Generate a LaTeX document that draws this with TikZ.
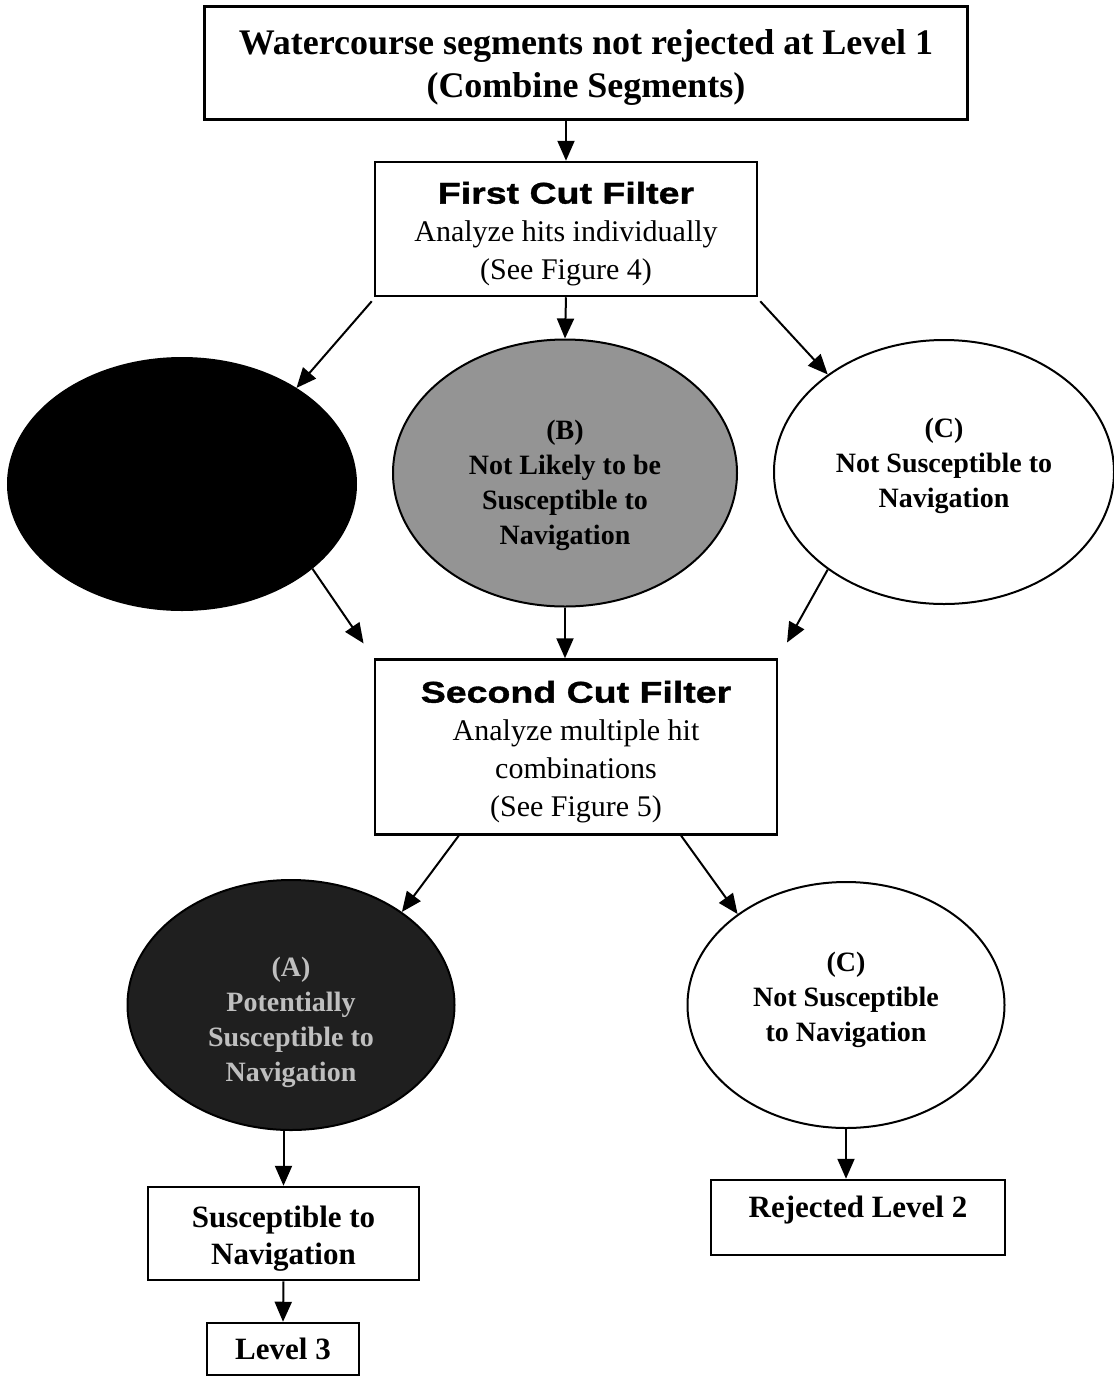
\documentclass[tikz,border=0pt]{standalone}
\usepackage{fontspec}
\setmainfont{Liberation Serif}
\newfontfamily\blk{Liberation Sans}[FakeStretch=1.25,FakeBold=1.2]
\usetikzlibrary{shapes.geometric,arrows.meta,calc}
\tikzset{
  box/.style={draw,line width=2.5pt,rectangle,inner sep=0pt,align=center,fill=white},
  oval/.style={draw,line width=2pt,ellipse,inner sep=0pt,align=center},
  arr/.style={line width=2pt,-{Triangle[length=20pt,width=17pt]}},
  etxt/.style={font=\bfseries\fontsize{28}{35}\selectfont,align=center},
  btxt/.style={font=\bfseries\fontsize{31}{37}\selectfont,align=center},
  rtxt/.style={font=\fontsize{30}{38}\selectfont,align=center}
}
\begin{document}
\begin{tikzpicture}[x=1pt,y=-1pt]
\useasboundingbox (0,0) rectangle (1114,1377);
% boxes
\node[box,minimum width=763pt,minimum height=113pt,
  label={[font=\bfseries\fontsize{36}{43}\selectfont,align=center,yshift=-4pt]center:Watercourse segments not rejected at Level 1\\(Combine Segments)}] (top) at (586,63) {};
\node[box,minimum width=382pt,minimum height=134pt,
  label={[rtxt,yshift=-5pt]center:{\blk\bfseries First Cut Filter}\\Analyze hits individually\\(See Figure 4)}] (fc) at (566,229) {};
% ellipses row 1
\node[oval,fill=black,minimum width=348pt,minimum height=252pt] (A) at (182,484) {};
\node[oval,fill=black!42,minimum width=344pt,minimum height=267pt,
  label={[etxt,yshift=-12pt]center:(B)\\Not Likely to be\\Susceptible to\\Navigation}] (B) at (565,473) {};
\node[oval,fill=white,minimum width=340pt,minimum height=264pt,
  label={[etxt,yshift=6pt]center:(C)\\Not Susceptible to\\Navigation}] (C) at (944,472) {};
% second cut
\node[box,minimum width=402pt,minimum height=175pt,
  label={[rtxt,yshift=-5pt]center:{\blk\bfseries Second Cut Filter}\\Analyze multiple hit\\combinations\\(See Figure 5)}] (sc) at (576,747) {};
% ellipses row 2
\node[oval,fill=black!88,minimum width=327pt,minimum height=250pt,
  label={[etxt,text=black!25,yshift=-17pt]center:(A)\\Potentially\\Susceptible to\\Navigation}] (A2) at (291,1005) {};
\node[oval,fill=white,minimum width=317pt,minimum height=246pt,
  label={[etxt,yshift=5pt]center:(C)\\Not Susceptible\\to Navigation}] (C2) at (846,1005) {};
% bottom boxes
\node[box,minimum width=271pt,minimum height=93pt,
  label={[btxt,yshift=-5pt]center:Susceptible to\\Navigation}] (sus) at (283.5,1233.5) {};
\node[box,minimum width=152pt,minimum height=52pt,
  label={[btxt]center:Level 3}] (l3) at (283,1349) {};
\node[box,minimum width=294pt,minimum height=75pt,
  label={[btxt,yshift=7pt]center:Rejected Level 2}] (rej) at (858,1217.5) {};
% connectors
\draw[arr] (fc.north |- top.south) -- (fc.north);
\draw[arr] ($(fc.south west)+(-2,4)$) -- (A.40);
\draw[arr] (fc.south) -- (B.north);
\draw[arr] ($(fc.south east)+(2,4)$) -- (C.140);
\draw[arr,shorten >=18pt] (A.-33) -- (sc.north west);
\draw[arr] (B.south) -- (B.south |- sc.north);
\draw[arr,shorten >=18pt] (C.-140) -- (sc.north east);
\draw[arr] ($(sc.south west)!0.21!(sc.south east)$) -- (A2.40);
\draw[arr] ($(sc.south west)!0.76!(sc.south east)$) -- (C2.140);
\draw[arr] (sus.north |- A2.south) -- (sus.north);
\draw[arr] (C2.south) -- (C2.south |- rej.north);
\draw[arr] (sus.south) -- (l3.north);
\end{tikzpicture}
\end{document}
